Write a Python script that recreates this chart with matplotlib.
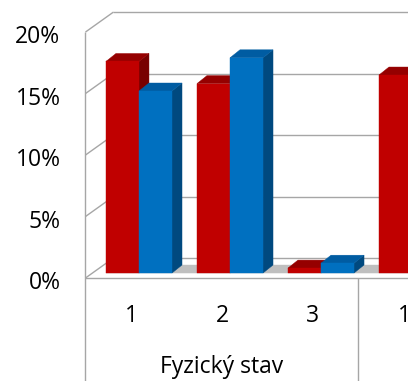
import matplotlib.pyplot as plt
from matplotlib.patches import Polygon, Rectangle
from matplotlib.transforms import IdentityTransform

categories = ['1', '2', '3', '1']
group_name = 'Fyzický stav'
red_values = [17.2, 15.4, 0.4, 16.1]
blue_values = [14.8, 17.5, 0.8]
y_ticks = [0, 5, 10, 15, 20]

# front, top, side shades of each series
RED = ('#c00000', '#950000', '#780000')
BLUE = ('#0070c0', '#005ca2', '#00497f')
GRID = '#a6a6a6'

plt.rcParams['font.family'] = ['Open Sans', 'DejaVu Sans']

fig = plt.figure(figsize=(4.08, 3.81), dpi=100)
ax = fig.add_axes([0, 0, 1, 1])
ax.set_xlim(-1.527, 2.956)
ax.set_ylim(-8.78, 22.2)
ax.axis('off')

bar_w = 0.363
depth = (10, 8)    # pixel shift of a bar's back face
back = (20, 15)    # back wall
front = (-8, -5)   # front edge of floor and value axis
ident = IdentityTransform()


def pt(x, y, off=(0, 0)):
    X, Y = ax.transData.transform((x, y))
    return (X + off[0], Y + off[1])


def line(p0, p1, lw=1.0):
    ax.plot([p0[0], p1[0]], [p0[1], p1[1]], transform=ident, color=GRID,
            lw=lw, solid_capstyle='butt')


def face(points, color, z=3):
    ax.add_patch(Polygon(points, closed=True, transform=ident, facecolor=color,
                         edgecolor=color, lw=0.3, zorder=z))


# back wall gridlines and side wall
for t in y_ticks:
    line(pt(-0.5, t, back), pt(3.6, t, back))
    line(pt(-0.5, t, front), pt(-0.5, t, back))

# floor strip under the bars
face([pt(-bar_w, 0), pt(3.6, 0), pt(3.6, 0, depth), pt(-bar_w, 0, depth)], '#bfbfbf', z=2)

# value axis, floor edge and category separators
x_ax = pt(-0.5, 0, front)[0]
line(pt(-0.5, 20, front), (x_ax, 0))
line(pt(-0.5, 0, front), pt(3.6, 0, front))
x_sep = pt(2.5, 0, front)[0]
line(pt(2.5, 0, front), (x_sep, 0))

# 3D columns
for i in range(len(categories)):
    for values, shades, x0 in ((red_values, RED, i - bar_w), (blue_values, BLUE, i)):
        if i >= len(values):
            continue
        v = values[i]
        x1 = x0 + bar_w
        face([pt(x1, 0), pt(x1, v), pt(x1, v, depth), pt(x1, 0, depth)], shades[2])
        face([pt(x0, v), pt(x1, v), pt(x1, v, depth), pt(x0, v, depth)], shades[1])
        ax.add_patch(Rectangle((x0, 0), bar_w, v, facecolor=shades[0],
                               edgecolor=shades[0], lw=0.3, zorder=3))

# labels
for t in y_ticks:
    X, Y = pt(-0.5, t, front)
    ax.text(X - 25, Y - 5, f'{t}%', transform=ident, ha='right', va='center',
            fontsize=16.5, color='#000000')
for i, c in enumerate(categories):
    X, Y = pt(i, 0, front)
    ax.text(X, Y - 38, c, transform=ident, ha='center', va='center', fontsize=16.5)
X, Y = pt(1, 0, front)
ax.text(X, Y - 89, group_name, transform=ident, ha='center', va='center', fontsize=16.5)

fig.savefig('out.png', dpi=100, facecolor='white')
